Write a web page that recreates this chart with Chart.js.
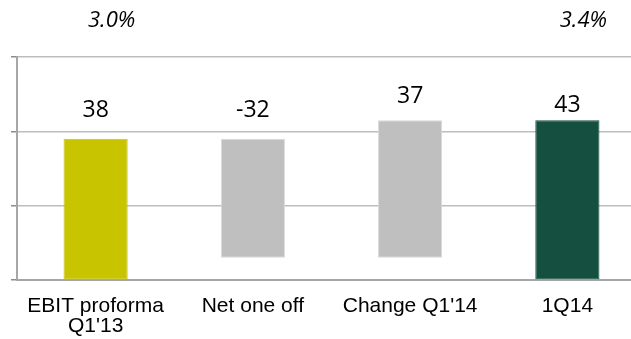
<!DOCTYPE html>
<html lang="en">
<head>
    <meta charset="UTF-8">
    <title>EBIT bridge Q1'13 - 1Q14</title>
    <script src="https://cdn.jsdelivr.net/npm/chart.js"></script>
    <style>
        body {
            margin: 0;
            background: #ffffff;
        }
        .frame {
            width: 631px;
            height: 339px;
            overflow: hidden;
        }
        .wrap {
            width: 646px;
            height: 339px;
        }
    </style>
</head>
<body>
    <div class="frame">
        <div class="wrap">
            <canvas id="bridge"></canvas>
        </div>
    </div>
    <script>
        const categories = [['EBIT proforma', "Q1'13"], 'Net one off', "Change Q1'14", '1Q14'];
        const startValue = 38;
        const steps = [-32, 37];
        const endValue = 43;
        const margins = ['3.0%', '', '', '3.4%'];
        const yTicks = [0, 20, 40, 60];

        // floating ranges for the waterfall
        const ranges = [[0, startValue]];
        let level = startValue;
        steps.forEach(s => {
            const next = level + s;
            ranges.push([Math.min(level, next), Math.max(level, next)]);
            level = next;
        });
        ranges.push([0, endValue]);
        const shownValues = [startValue, ...steps, endValue];

        const fills = ['#c8c400', '#bfbfbf', '#bfbfbf', '#154f3f'];
        const edges = ['#c8c400', '#d9d9d9', '#d9d9d9', '#154f3f'];
        const labelLift = [28, 28, 24, 15];

        const labelPlugin = {
            id: 'bridgeLabels',
            afterDatasetsDraw(chart) {
                const ctx = chart.ctx;
                const meta = chart.getDatasetMeta(0);
                ctx.save();
                ctx.textAlign = 'center';
                ctx.textBaseline = 'middle';
                ctx.fillStyle = '#000000';
                meta.data.forEach((bar, i) => {
                    const top = Math.min(bar.y, bar.base);
                    ctx.font = '23px "Open Sans"';
                    ctx.fillText(String(shownValues[i]), bar.x, top - labelLift[i]);
                    if (margins[i]) {
                        ctx.font = 'italic 22px "Open Sans"';
                        ctx.fillText(margins[i], bar.x + 16, 21);
                    }
                });
                ctx.restore();
            }
        };

        new Chart(document.getElementById('bridge'), {
            type: 'bar',
            data: {
                labels: categories,
                datasets: [{
                    data: ranges,
                    backgroundColor: fills,
                    borderColor: edges,
                    borderWidth: 1,
                    borderSkipped: false,
                    barPercentage: 0.408,
                    categoryPercentage: 1
                }]
            },
            options: {
                responsive: true,
                maintainAspectRatio: false,
                animation: false,
                layout: { padding: { top: 57, left: 0, right: 0, bottom: 0 } },
                plugins: {
                    legend: { display: false },
                    tooltip: { enabled: false }
                },
                scales: {
                    x: {
                        afterFit(scale) {
                            scale.height = 59;
                        },
                        grid: { display: false, drawTicks: false },
                        border: { color: '#a6a6a6', width: 2 },
                        ticks: {
                            color: '#000000',
                            padding: 16,
                            maxRotation: 0,
                            autoSkip: false,
                            font: { family: '"Liberation Sans", Arial', size: 21, lineHeight: 0.96 }
                        }
                    },
                    y: {
                        min: yTicks[0],
                        max: yTicks[yTicks.length - 1],
                        afterBuildTicks(scale) {
                            scale.ticks = yTicks.map(v => ({ value: v }));
                        },
                        afterFit(scale) {
                            scale.width = 17;
                        },
                        grid: {
                            color: '#bdbdbd',
                            lineWidth: 1.5,
                            tickColor: '#8c8c8c',
                            tickLength: 6
                        },
                        border: { color: '#a6a6a6', width: 2 },
                        ticks: { display: false }
                    }
                }
            },
            plugins: [labelPlugin]
        });
    </script>
</body>
</html>
